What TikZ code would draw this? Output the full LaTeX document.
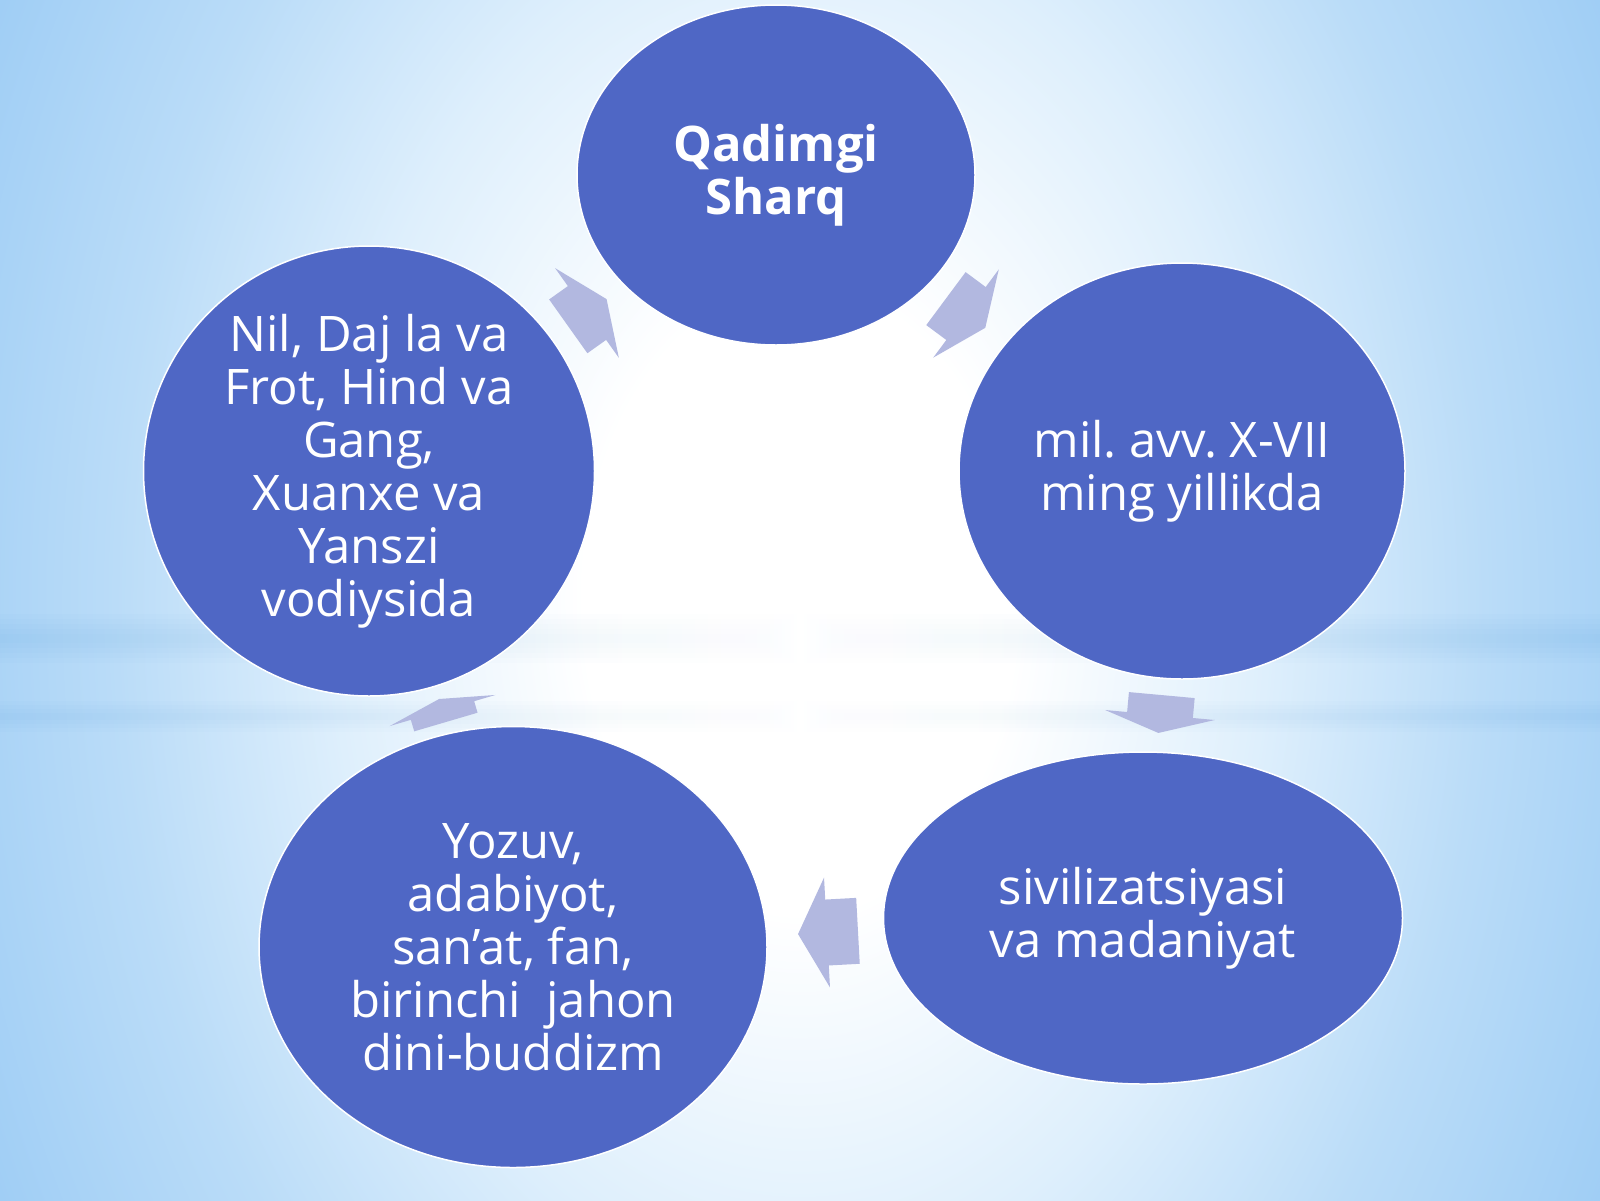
\documentclass[tikz,border=0pt]{standalone}
\usepackage{fontspec}
\setmainfont{Open Sans}
\usetikzlibrary{shapes.geometric}

\definecolor{bubble}{RGB}{79,103,197}
\definecolor{arrowfill}{RGB}{178,184,224}
\definecolor{skylight}{RGB}{222,239,252}
\definecolor{skymid}{RGB}{186,220,248}
\definecolor{skyedge}{RGB}{160,206,245}
\definecolor{bandblue}{RGB}{130,190,240}

% 25bp is the edge of the shaded path
\pgfdeclareradialshading{skyglow}{\pgfpoint{0bp}{0bp}}{color(0bp)=(white); color(6bp)=(white); color(13bp)=(skylight); color(19bp)=(skymid); color(25bp)=(skyedge); color(50bp)=(skyedge)}

\tikzset{
  bubble/.style={ellipse, draw=white, line width=1.5pt, fill=bubble, text=white, align=center, inner sep=0pt, font=\fontsize{49}{53}\selectfont},
  band/.style={left color=bandblue, right color=bandblue, middle color=white, opacity=0.07},
  pics/cycarrow/.style 2 args={code={
    \fill[arrowfill] (-#1,-33) -- (0,-33) -- (0,-55) -- (#2,0) -- (0,55) -- (0,33) -- (-#1,33) -- cycle;
  }}
}
\frenchspacing

\begin{document}
\begin{tikzpicture}[x=1pt,y=-1pt]

\useasboundingbox (0,0) rectangle (1600,1200);

% background
\begin{scope}
\clip (0,0) rectangle (1600,1200);
\shade[shading=skyglow] (-100,-700) rectangle (1700,1900);
\foreach \h in {4,9,14,19,24}
  \shade[band] (0,{638-\h}) rectangle (1600,{638+\h});
\foreach \h in {3,7,11,15}
  \shade[band] (0,{716-\h}) rectangle (1600,{716+\h});
\end{scope}

% circles
\node[bubble, minimum width=398, minimum height=340] (sharq) at (776,175) {\textbf{Qadimgi}\\\textbf{Sharq}};
\node[bubble, minimum width=446, minimum height=416] (mil) at (1182,471) {mil. avv. X-VII\\ming yillikda};
\node[bubble, minimum width=519, minimum height=332] (sivil) at (1143,918) {sivilizatsiyasi\\va madaniyat};
\node[bubble, minimum width=508, minimum height=441] (yozuv) at (513,947) {Yozuv,\\adabiyot,\\san’at, fan,\\birinchi\ \ jahon\\dini-buddizm};
\node[bubble, minimum width=451, minimum height=450] (nil) at (369,471) {Nil, Daj la va\\Frot, Hind va\\Gang,\\Xuanxe va\\Yanszi\\vodiysida};

% arrows
\pic[rotate=-36.6] at (966,313.5) {cycarrow={25}{24}};
\pic[rotate=-95.2] at (1160,715) {cycarrow={20}{18}};
\pic[rotate=183.1] at (827,932.5) {cycarrow={31}{29}};
\pic[rotate=106.4] at (442.5,710.5) {cycarrow={12}{12}};
\pic[rotate=35.4] at (587,313) {cycarrow={23}{24}};

\end{tikzpicture}
\end{document}
